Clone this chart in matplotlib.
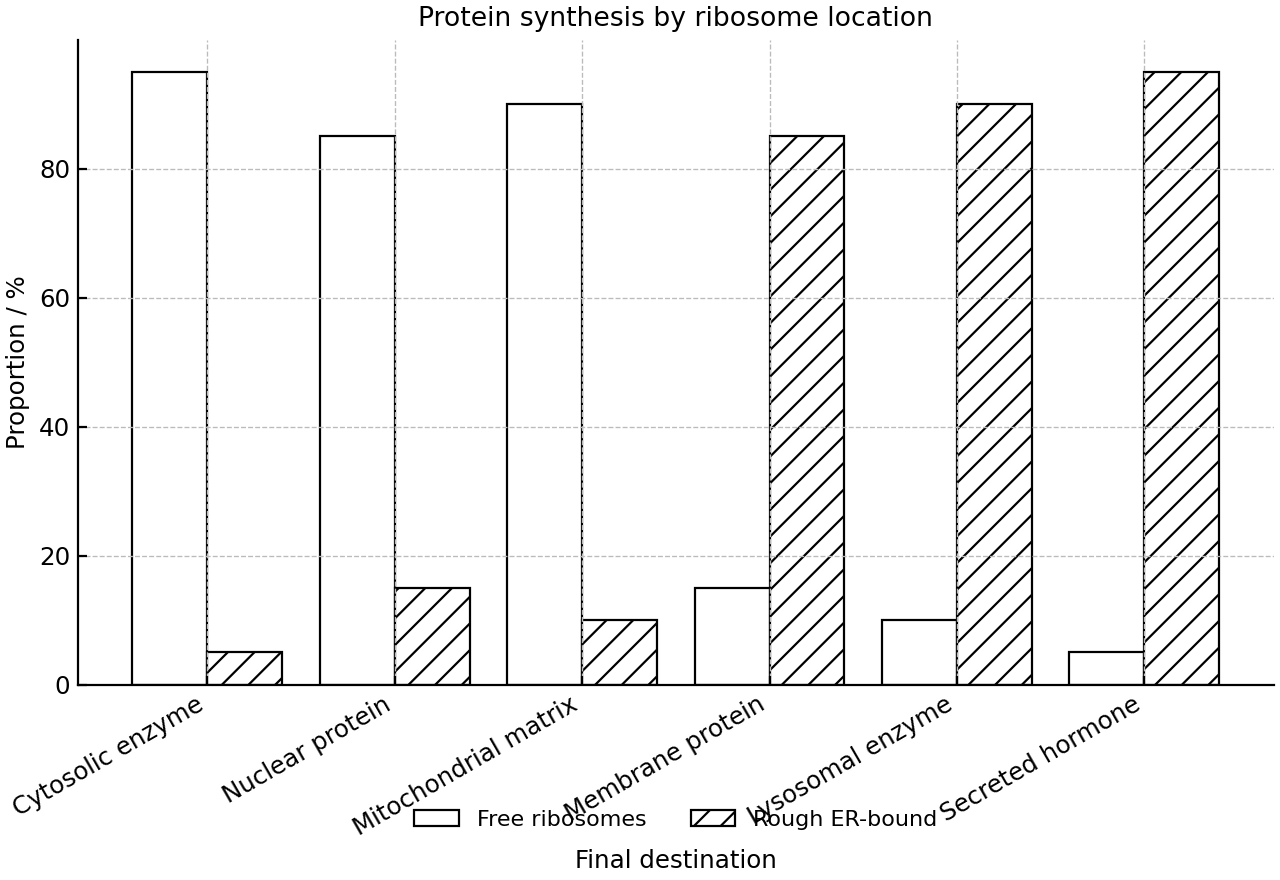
import numpy as np
import matplotlib
matplotlib.use("Agg")
import matplotlib.pyplot as plt

# data
destinations = ["Cytosolic enzyme", "Nuclear protein", "Mitochondrial matrix",
                "Membrane protein", "Lysosomal enzyme", "Secreted hormone"]
free_ribosomes = [95, 85, 90, 15, 10, 5]
rough_er = [5, 15, 10, 85, 90, 95]


def plot():
    fig, ax = plt.subplots(figsize=(8, 5.5), dpi=160)
    x = np.arange(len(destinations))
    w = 0.4

    ax.bar(x - w / 2, free_ribosomes, w, facecolor="white", edgecolor="black",
           linewidth=1.0, label="Free ribosomes")
    ax.bar(x + w / 2, rough_er, w, facecolor="white", edgecolor="black",
           linewidth=1.0, hatch="//", label="Rough ER-bound")

    ax.set_title("Protein synthesis by ribosome location", fontsize=12)
    ax.set_xlabel("Final destination", fontsize=11)
    ax.set_ylabel("Proportion / %", fontsize=11)
    ax.set_xticks(x)
    ax.set_xticklabels(destinations, rotation=30, ha="right", fontsize=11)
    ax.tick_params(axis="y", labelsize=11)
    ax.tick_params(direction="in", length=4, width=1.0)
    ax.set_ylim(0, 100)
    ax.set_yticks([0, 20, 40, 60, 80])

    ax.grid(True, linestyle="--", color="#bbbbbb", linewidth=0.6)
    ax.spines["top"].set_visible(False)
    ax.spines["right"].set_visible(False)
    ax.spines["left"].set_linewidth(1.0)
    ax.spines["bottom"].set_linewidth(1.0)

    ax.legend(loc="upper center", bbox_to_anchor=(0.5, -0.163), ncol=2,
              frameon=False, fontsize=10, handlelength=2.0, columnspacing=2.0)

    fig.subplots_adjust(left=0.061, right=0.995, top=0.955, bottom=0.222)
    fig.savefig("out.png")


if __name__ == "__main__":
    plot()
